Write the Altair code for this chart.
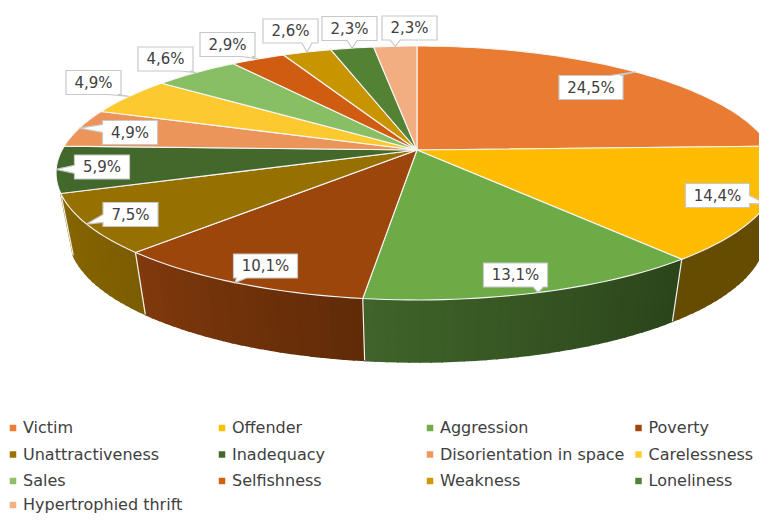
import math
import altair as alt

categories = ["Victim", "Offender", "Aggression", "Poverty", "Unattractiveness", "Inadequacy",
              "Disorientation in space", "Carelessness", "Sales", "Selfishness", "Weakness",
              "Loneliness", "Hypertrophied thrift"]
shares = [24.5, 14.4, 13.1, 10.1, 7.5, 5.9, 4.9, 4.9, 4.6, 2.9, 2.6, 2.3, 2.3]
top_colors = ["#E97C32", "#FFBC00", "#6DAB47", "#9C460C", "#967000", "#43682B", "#EC955A",
              "#FCC92E", "#88BF64", "#CF5C10", "#C89400", "#548235", "#F2AE80"]
legend_colors = ["#ED7D31", "#FFC000", "#70AD47", "#9E480E", "#997300", "#43682B", "#F1975A",
                 "#FFCD33", "#8CC168", "#D26012", "#CC9A00", "#548235", "#F4B183"]
# wall shading (start, end of the visible wall) for the slices whose side shows
wall_shades = {1: ("#664C00", "#664C00"), 2: ("#2B441B", "#3F6429"),
               3: ("#602B08", "#80390C"), 4: ("#7C5D02", "#876600")}
# label box centres, in picture pixels
label_centres = [(591, 87.5), (717.5, 195.5), (515.5, 275), (265.5, 266), (130.5, 214.5),
                 (102, 167), (130, 132.5), (93.5, 82.5), (165.5, 59), (227.5, 44.5),
                 (290.5, 31), (349.5, 28.5), (409.5, 28)]
legend_x = [13, 222, 430, 638.5]
legend_y = [428, 454.5, 481, 505]

# perspective of the tilted disc
CX, CY, RX, RY, K = 417, 150, 355, 122.8, 0.181
DEPTH, SHRINK = 62, 0.965


def rim(deg):
    t = math.radians(deg)
    d = 1 + K * math.cos(t)
    return [CX + RX * math.sin(t) / d, CY - RY * math.cos(t) / d]


def low(deg):
    x, y = rim(deg)
    return [CX + (x - CX) * SHRINK, y + DEPTH]


def feature(coords, kind="Polygon", **props):
    geometry = {"type": kind, "coordinates": [coords] if kind == "Polygon" else coords}
    return {"type": "Feature", "geometry": geometry, "properties": props}


def mix(a, b, f):
    va = [int(a[i:i + 2], 16) for i in (1, 3, 5)]
    vb = [int(b[i:i + 2], 16) for i in (1, 3, 5)]
    return "#%02x%02x%02x" % tuple(round(p + (q - p) * f) for p, q in zip(va, vb))


def callout(c, w, h, tip):
    cx, cy = c
    l, r, t, b = cx - w / 2, cx + w / 2, cy - h / 2, cy + h / 2
    bx = min(max(tip[0], l + 8), r - 8)
    by = min(max(tip[1], t + 8), b - 8)
    if tip[1] > b:
        pts = [[l, t], [r, t], [r, b], [bx + 5, b], tip, [bx - 5, b], [l, b]]
    elif tip[1] < t:
        pts = [[l, t], [bx - 5, t], tip, [bx + 5, t], [r, t], [r, b], [l, b]]
    elif tip[0] < l:
        pts = [[l, t], [r, t], [r, b], [l, b], [l, by + 4], tip, [l, by - 4]]
    else:
        pts = [[l, t], [r, t], [r, by - 4], tip, [r, by + 4], [r, b], [l, b]]
    return pts + [pts[0]]


starts, total = [], 0.0
for v in shares:
    starts.append(total * 3.6)
    total += v
ends = starts[1:] + [360.0]

tops, walls, seams, boxes, labels = [], [], [], [], []
for i, name in enumerate(categories):
    a, b = starts[i], ends[i]
    n = max(2, int((b - a) / 1.5))
    arc = [rim(a + (b - a) * j / n) for j in range(n + 1)]
    tops.append(feature([[CX, CY]] + arc + [[CX, CY]], cat=name))
    if i in wall_shades:
        wa = max(a, 86.0)
        for j in range(n):
            p, q = wa + (b - wa) * j / n, wa + (b - wa) * (j + 1) / n
            walls.append(feature([rim(p), rim(q), low(q), low(p), rim(p)],
                                 shade=mix(*wall_shades[i], (j + 0.5) / n)))
        seams.append(feature([rim(b), low(b)], kind="LineString", cat=name))
    tip = rim((a + b) / 2)
    text = f"{shares[i]:.1f}%".replace(".", ",")
    width = 64 if len(text) > 4 else 55
    boxes.append(feature(callout(label_centres[i], width, 24, tip), cat=name))
    labels.append({"text": text, "lon": label_centres[i][0], "lat": label_centres[i][1]})

legend_rows = [{"cat": n, "lon": legend_x[i % 4], "lat": legend_y[i // 4],
                "lon2": legend_x[i % 4] + 10} for i, n in enumerate(categories)]

projection = dict(type="identity", scale=1, translate=[-8, -8])
color_scale = alt.Scale(domain=categories, range=top_colors)
FONT = "DejaVu Sans"

wall_layer = alt.Chart(alt.Data(values=walls)).mark_geoshape(strokeWidth=1.6).encode(
    fill=alt.Fill("properties.shade:N", scale=None),
    stroke=alt.Stroke("properties.shade:N", scale=None),
).project(**projection)

seam_layer = alt.Chart(alt.Data(values=seams)).mark_geoshape(
    filled=False, stroke="#f4f4f4", strokeWidth=1.2).project(**projection)

top_layer = alt.Chart(alt.Data(values=tops)).mark_geoshape(stroke="#f6f6f6", strokeWidth=1.1).encode(
    fill=alt.Fill("properties.cat:N", scale=color_scale, legend=None),
).project(**projection)

box_layer = alt.Chart(alt.Data(values=boxes)).mark_geoshape(
    fill="white", stroke="#c8c8c8", strokeWidth=1.2).project(**projection)

label_layer = alt.Chart(alt.Data(values=labels)).mark_text(
    font=FONT, fontSize=15, color="#404040", align="center", baseline="middle").encode(
    longitude="lon:Q", latitude="lat:Q", text="text:N").project(**projection)

legend_marks = alt.Chart(alt.Data(values=legend_rows)).mark_square(size=42, opacity=1, filled=True).encode(
    longitude="lon:Q", latitude="lat:Q",
    color=alt.Color("cat:N", scale=alt.Scale(domain=categories, range=legend_colors), legend=None),
).project(**projection)

legend_text = alt.Chart(alt.Data(values=legend_rows)).mark_text(
    font=FONT, fontSize=16, color="#404040", align="left", baseline="middle").encode(
    longitude="lon2:Q", latitude="lat:Q", text="cat:N").project(**projection)

chart = alt.layer(wall_layer, seam_layer, top_layer, box_layer, label_layer,
                  legend_marks, legend_text).resolve_scale(fill="independent", stroke="independent", color="independent").properties(
    width=751, height=505, padding=0, background="white",
    autosize=alt.AutoSizeParams(type="none"),
).configure_view(stroke=None)

chart.save("out.html", embed_options={"renderer": "svg", "actions": False})
